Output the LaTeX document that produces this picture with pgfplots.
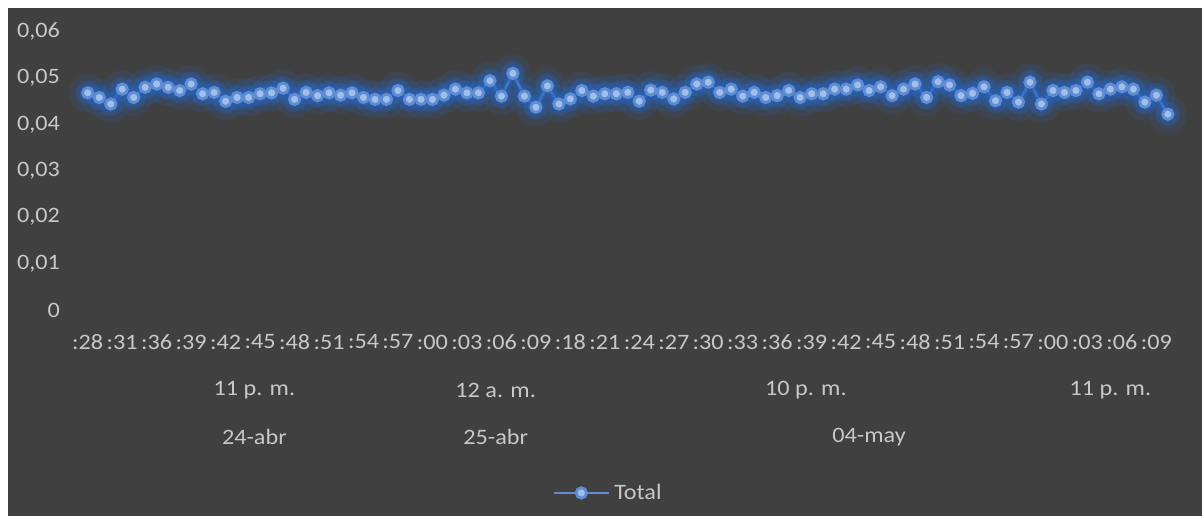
\documentclass[border=0pt]{standalone}
\usepackage{fontspec}
\setmainfont{Carlito}[FakeStretch=1.1]
\usepackage{pgfplots}
\usepackage{pgfplotstable}
\pgfplotsset{compat=1.18}

\definecolor{bgdark}{RGB}{64,64,64}
\definecolor{labelgray}{RGB}{200,200,200}
\definecolor{glowblue}{RGB}{40,100,190}
\definecolor{lineblue}{RGB}{95,140,210}
\definecolor{markblue}{RGB}{160,192,235}

% reading index, value
\pgfplotstableread{
idx val
0 0.0468
1 0.0458
2 0.0444
3 0.0476
4 0.0458
5 0.0480
6 0.0487
7 0.0480
8 0.0473
9 0.0487
10 0.0466
11 0.0469
12 0.0450
13 0.0458
14 0.0458
15 0.0466
16 0.0468
17 0.0478
18 0.0454
19 0.0469
20 0.0462
21 0.0468
22 0.0463
23 0.0468
24 0.0458
25 0.0454
26 0.0454
27 0.0473
28 0.0454
29 0.0454
30 0.0454
31 0.0463
32 0.0476
33 0.0468
34 0.0468
35 0.0494
36 0.0461
37 0.0510
38 0.0461
39 0.0437
40 0.0483
41 0.0444
42 0.0455
43 0.0473
44 0.0461
45 0.0466
46 0.0466
47 0.0469
48 0.0450
49 0.0474
50 0.0469
51 0.0455
52 0.0469
53 0.0487
54 0.0491
55 0.0469
56 0.0476
57 0.0461
58 0.0469
59 0.0458
60 0.0462
61 0.0473
62 0.0458
63 0.0466
64 0.0466
65 0.0476
66 0.0476
67 0.0485
68 0.0473
69 0.0481
70 0.0462
71 0.0476
72 0.0487
73 0.0458
74 0.0492
75 0.0485
76 0.0462
77 0.0467
78 0.0481
79 0.0451
80 0.0469
81 0.0448
82 0.0491
83 0.0444
84 0.0473
85 0.0469
86 0.0473
87 0.0491
88 0.0466
89 0.0476
90 0.0481
91 0.0476
92 0.0448
93 0.0463
94 0.0422
}\totaldata

\begin{document}
\begin{tikzpicture}
% page and chart area
\fill[white] (0,0) rectangle (601.5pt,258pt);
\fill[bgdark] (4pt,0) rectangle (601pt,254pt);
\begin{axis}[
  at={(41pt,103pt)}, anchor=south west,
  scale only axis,
  width=545.8pt, height=139.2pt,
  xmin=-0.5, xmax=94.5,
  ymin=0, ymax=0.06,
  axis line style={draw=none},
  major tick length=0pt,
  scaled y ticks=false,
  font=\fontsize{11}{13}\selectfont,
  xtick={0,3,...,93},
  xticklabels={:28,:31,:36,:39,:42,:45,:48,:51,:54,:57,:00,:03,:06,:09,:18,:21,:24,:27,:30,:33,:36,:39,:42,:45,:48,:51,:54,:57,:00,:03,:06,:09},
  xticklabel style={anchor=center, yshift=-16pt, text=labelgray},
  ytick={0,0.01,...,0.06},
  yticklabels={0,{0,01},{0,02},{0,03},{0,04},{0,05},{0,06}},
  yticklabel style={anchor=east, xshift=-7.5pt, text=labelgray},
  clip=false,
  legend style={at={(0.4828,-0.657)}, anchor=center, draw=none, fill=none,
    text=labelgray, font=\fontsize{11}{13}\selectfont},
  legend image code/.code={%
    \draw[mark repeat=2,mark phase=2,#1]
      plot coordinates {(0pt,0pt) (13.75pt,0pt) (27.5pt,0pt)};},
]
% soft glow under the series
\addplot[glowblue, opacity=0.14, line width=8pt, mark=*, mark size=5.5pt,
  mark options={draw=none, fill=glowblue}, forget plot] table[x=idx,y=val] {\totaldata};
\addplot[glowblue, opacity=0.28, line width=4.5pt, mark=*, mark size=4pt,
  mark options={draw=none, fill=glowblue}, forget plot] table[x=idx,y=val] {\totaldata};
% the series itself
\addplot[lineblue, line width=1.4pt, mark=*, mark size=2.6pt,
  mark options={draw=none, fill=markblue}] table[x=idx,y=val] {\totaldata};
\addlegendentry{Total}

% hour group labels
\node[text=labelgray, anchor=center, yshift=-40pt] at (axis cs:14.5,0) {11 p. m.};
\node[text=labelgray, anchor=center, yshift=-40pt] at (axis cs:35.5,0) {12 a. m.};
\node[text=labelgray, anchor=center, yshift=-40pt] at (axis cs:62.5,0) {10 p. m.};
\node[text=labelgray, anchor=center, yshift=-40pt] at (axis cs:89,0) {11 p. m.};
% date group labels
\node[text=labelgray, anchor=center, yshift=-63.5pt] at (axis cs:14.5,0) {24-abr};
\node[text=labelgray, anchor=center, yshift=-63.5pt] at (axis cs:35.5,0) {25-abr};
\node[text=labelgray, anchor=center, yshift=-63.5pt] at (axis cs:68,0) {04-may};
\end{axis}
\end{tikzpicture}
\end{document}
